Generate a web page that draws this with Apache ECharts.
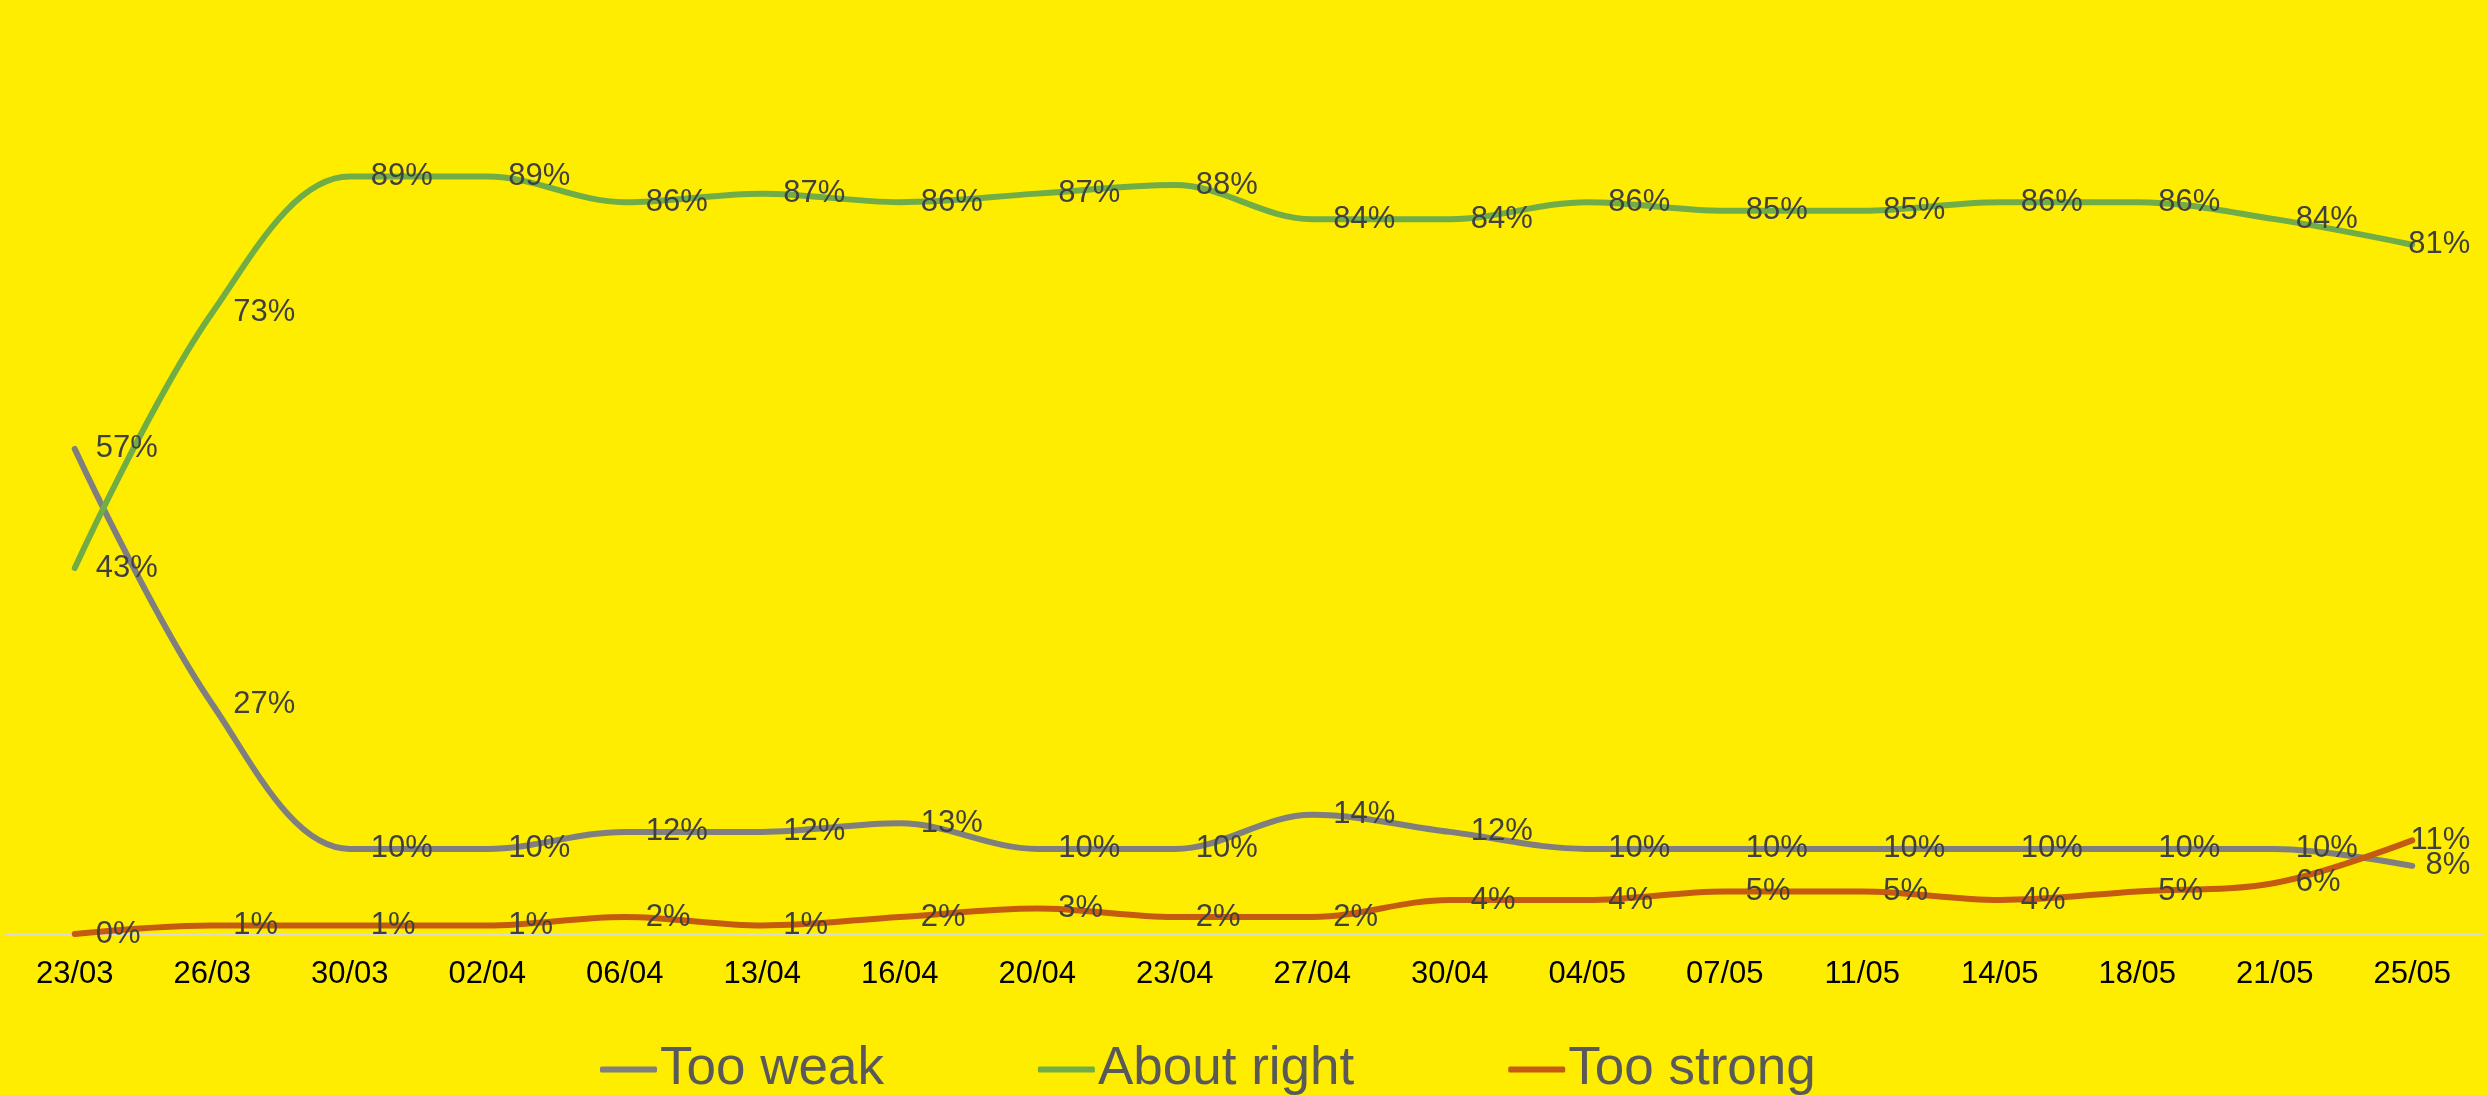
<!DOCTYPE html>
<html>
<head>
<meta charset="utf-8">
<title>Too weak / About right / Too strong</title>
<script src="https://cdn.jsdelivr.net/npm/echarts@6/dist/echarts.min.js"></script>
<style>
  html, body { margin: 0; padding: 0; background: #FFED00; }
  #chart { width: 2488px; height: 1095px; }
</style>
</head>
<body>
<div id="chart"></div>
<script>
// Survey dates
const dates = ['23/03', '26/03', '30/03', '02/04', '06/04', '13/04', '16/04', '20/04', '23/04',
  '27/04', '30/04', '04/05', '07/05', '11/05', '14/05', '18/05', '21/05', '25/05'];

// Share of respondents (%)
const tooWeak    = [57, 27, 10, 10, 12, 12, 13, 10, 10, 14, 12, 10, 10, 10, 10, 10, 10, 8];
const aboutRight = [43, 73, 89, 89, 86, 87, 86, 87, 88, 84, 84, 86, 85, 85, 86, 86, 84, 81];
const tooStrong  = [0, 1, 1, 1, 2, 1, 2, 3, 2, 2, 4, 4, 5, 5, 4, 5, 6, 11];

const FONT = '"Liberation Sans", Arial, sans-serif';

// The last point's label is pulled back so it stays inside the plot area
function withEdgeLabel(values) {
  return values.map(function (v, i) {
    if (i !== values.length - 1) return v;
    return {
      value: v,
      label: { position: [58, 0], align: 'right', verticalAlign: 'middle' }
    };
  });
}

function lineSeries(name, values, color) {
  return {
    name: name,
    type: 'line',
    data: withEdgeLabel(values),
    smooth: 0.35,
    symbol: 'circle',
    symbolSize: 0,
    showSymbol: true,
    lineStyle: { color: color, width: 6, cap: 'round' },
    itemStyle: { color: color },
    label: {
      show: true,
      position: 'right',
      distance: 21,
      formatter: '{c}%',
      color: '#404040',
      fontFamily: FONT,
      fontSize: 31
    },
    emphasis: { disabled: true },
    animation: false
  };
}

const chart = echarts.init(document.getElementById('chart'));
chart.setOption({
  backgroundColor: '#FFED00',
  animation: false,
  grid: { left: 6, right: 7, top: 83, bottom: 161, containLabel: false },
  legend: {
    left: 595,
    top: 1038,
    icon: 'roundRect',
    itemWidth: 57,
    itemHeight: 6,
    itemGap: 154,
    textStyle: { color: '#595959', fontFamily: FONT, fontSize: 53, padding: [0, 0, 0, -2] },
    data: ['Too weak', 'About right', 'Too strong']
  },
  xAxis: {
    type: 'category',
    data: dates,
    boundaryGap: true,
    axisLine: { lineStyle: { color: '#D9D9D9', width: 3 } },
    axisTick: { show: false },
    axisLabel: { color: '#000000', fontFamily: FONT, fontSize: 31, margin: 25, interval: 0 }
  },
  yAxis: {
    type: 'value',
    min: 0,
    max: 100,
    show: false,
    splitLine: { show: false }
  },
  series: [
    lineSeries('Too weak', tooWeak, '#7F7F7F'),
    lineSeries('About right', aboutRight, '#70AD47'),
    lineSeries('Too strong', tooStrong, '#C55A11')
  ]
});
</script>
</body>
</html>
